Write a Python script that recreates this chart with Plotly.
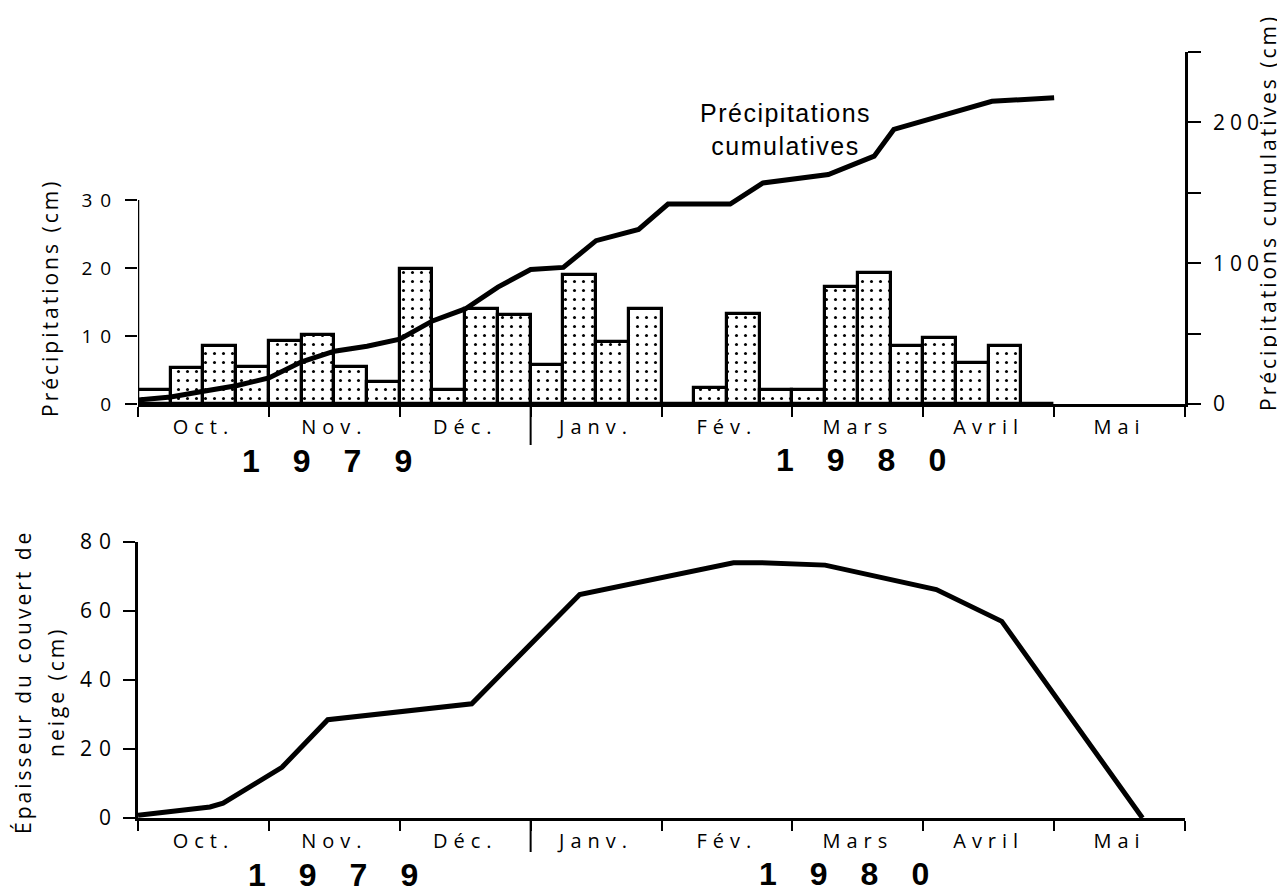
import plotly.graph_objects as go

# ---------------- data ----------------
months = ["Oct.", "Nov.", "Déc.", "Janv.", "Fév.", "Mars", "Avril", "Mai"]
weeks_per_month = 4

# weekly precipitation (cm), Oct 1979 -> Apr 1980
weekly_precip = [2.0, 5.3, 8.6, 5.5,
                 9.2, 10.2, 5.4, 3.3,
                 19.8, 2.1, 13.9, 13.1,
                 5.8, 19.0, 9.1, 13.9,
                 0.0, 2.4, 13.2, 2.1,
                 2.1, 17.2, 19.2, 8.6,
                 9.7, 6.0, 8.5, 0.0]

# cumulative precipitation (cm) vs time (weeks from 1 Oct)
cum_week = [0, 1, 2, 3, 4, 5, 6, 7, 8, 9, 10, 11, 12, 13, 14, 15.3, 16.2, 18.1,
            19.1, 21.1, 22.5, 23.1, 26.1, 28]
cum_value = [2.8, 5, 9, 13, 18.5, 30, 37.5, 41, 46, 59, 67.5, 83, 95.5, 97, 116,
             124, 142, 142, 157, 163, 176, 195, 215, 217.5]

# snow cover depth (cm) vs time (weeks from 1 Oct)
snow_week = [0, 2.2, 2.6, 4.4, 5.8, 10.2, 13.5, 16.0, 18.2, 19.0, 21.0, 24.4, 26.4, 30.7]
snow_depth = [0.8, 3.2, 4.3, 14.7, 28.5, 33.1, 64.8, 69.6, 74.0, 74.0, 73.3, 66.2, 57.0, 0]

precip_ticks = [0, 10, 20, 30]
cum_ticks = [0, 100, 200]
cum_minor = [50, 150, 250]
snow_ticks = [0, 20, 40, 60, 80]
years = ["1979", "1980"]

# ---------------- layout helpers ----------------
OFF = 8                      # page body margin
W, H = 1285 - OFF, 895 - OFF
def px(x):
    return (x - OFF) / W
def py(y):
    return 1 - (y - OFF) / H

def ls(text, spacing):
    return f'<span style="letter-spacing:{spacing}px">{text}</span>'

n_weeks = len(months) * weeks_per_month
month_centers = [i * weeks_per_month + weeks_per_month / 2 for i in range(len(months))]
month_bounds = [i * weeks_per_month for i in range(len(months) + 1)]
year_break = months.index("Janv.") * weeks_per_month

FONT = "Open Sans, DejaVu Sans, sans-serif"
month_font = dict(family=FONT, size=20, color="black")
title_font = dict(family=FONT, size=21, color="black")
year_font = dict(family="Liberation Sans, Arial, sans-serif", size=32, color="black", weight=700)

fig = go.Figure()

bar_x = [i + 0.5 for i in range(len(weekly_precip))]
fig.add_trace(go.Bar(
    x=bar_x, y=weekly_precip, width=1, xaxis="x", yaxis="y",
    marker=dict(color="white",
                line=dict(color="black", width=3.2),
                pattern=dict(shape=".", fgcolor="black", bgcolor="white",
                             size=9, solidity=0.09, fillmode="replace")),
    showlegend=False, hoverinfo="x+y"))

fig.add_trace(go.Scatter(
    x=cum_week, y=cum_value, mode="lines", xaxis="x", yaxis="y2",
    line=dict(color="black", width=5), showlegend=False))

fig.add_trace(go.Scatter(
    x=snow_week, y=snow_depth, mode="lines", xaxis="x2", yaxis="y3",
    line=dict(color="black", width=5), showlegend=False))

xdom = [px(138), px(1185)]
top_dom = [py(404), py(52)]
bot_dom = [py(818), py(542)]
top_h = 404 - 52
bot_h = 818 - 542

def xaxis_common(anchor):
    return dict(
        domain=xdom, anchor=anchor, range=[0, n_weeks], automargin=False,
        showline=True, linecolor="black", linewidth=2.5,
        showgrid=False, zeroline=False,
        tickmode="array", tickvals=month_centers,
        ticktext=[ls(m, 6) for m in months],
        ticks="outside", ticklen=0, tickfont=month_font, ticklabelstandoff=3,
        minor=dict(ticks="outside", tickvals=month_bounds, ticklen=10,
                   tickwidth=2, tickcolor="black", showgrid=False),
    )

fig.update_layout(
    template="none",
    width=W, height=H,
    margin=dict(l=0, r=0, t=0, b=0, pad=0),
    paper_bgcolor="white", plot_bgcolor="rgba(0,0,0,0)",
    bargap=0, showlegend=False,
    xaxis=xaxis_common("y"),
    yaxis=dict(domain=top_dom, range=[0, top_h / 6.8], showline=False,
               showgrid=False, zeroline=False, automargin=False,
               tickmode="array", tickvals=precip_ticks,
               ticktext=[ls(str(v), 8) for v in precip_ticks],
               ticks="outside", ticklen=12, tickwidth=2, tickcolor="black",
               tickfont=dict(family=FONT, size=19, color="black"), ticklabelstandoff=2),
    yaxis2=dict(overlaying="y", anchor="x", side="right", range=[0, 250],
                showline=True, linecolor="black", linewidth=2.5,
                showgrid=False, zeroline=False, automargin=False,
                tickmode="array", tickvals=cum_ticks,
                ticktext=[ls(str(v), 5) for v in cum_ticks],
                ticks="outside", ticklen=13, tickwidth=2, tickcolor="black",
                tickfont=dict(family=FONT, size=21, color="black"), ticklabelstandoff=8,
                minor=dict(ticks="outside", tickvals=cum_minor, ticklen=13,
                           tickwidth=2, tickcolor="black", showgrid=False)),
    xaxis2=xaxis_common("y3"),
    yaxis3=dict(domain=bot_dom, anchor="x2", range=[0, 80],
                showline=True, linecolor="black", linewidth=2.5,
                showgrid=False, zeroline=False, automargin=False,
                tickmode="array", tickvals=snow_ticks,
                ticktext=[ls(str(v), 7) for v in snow_ticks],
                ticks="outside", ticklen=12, tickwidth=2, tickcolor="black",
                tickfont=dict(family=FONT, size=21, color="black"), ticklabelstandoff=1),
)

# left axis line of the precipitation panel only spans 0-30
fig.add_shape(type="line", xref="x", yref="y", x0=0, x1=0,
              y0=precip_ticks[0], y1=precip_ticks[-1],
              line=dict(color="black", width=2.5))
# long year-separation ticks
fig.add_shape(type="line", xref="x", yref="y domain", x0=year_break, x1=year_break,
              y0=0, y1=-41 / top_h, line=dict(color="black", width=2))
fig.add_shape(type="line", xref="x2", yref="y3 domain", x0=year_break, x1=year_break,
              y0=0, y1=-34 / bot_h, line=dict(color="black", width=2))

YS = 33  # letter spacing of the year labels
annots = [
    dict(x=px(327 + YS / 2), y=py(461), text=ls(years[0], YS), font=year_font),
    dict(x=px(861 + YS / 2), y=py(460), text=ls(years[1], YS), font=year_font),
    dict(x=px(333 + YS / 2), y=py(875), text=ls(years[0], YS), font=year_font),
    dict(x=px(844 + YS / 2), y=py(874), text=ls(years[1], YS), font=year_font),
    dict(x=px(785), y=py(130), text=ls("Précipitations", 1.5) + "<br>" + ls("cumulatives", 1.5),
         font=dict(family="Liberation Sans, Arial, sans-serif", size=25, color="black")),
    dict(x=px(50), y=py(298), text=ls("Précipitations (cm)", 3), textangle=-90, font=title_font),
    dict(x=px(1268), y=py(213), text=ls("Précipitations cumulatives (cm)", 3), textangle=-90,
         font=title_font),
    dict(x=px(23), y=py(682), text=ls("Épaisseur du couvert de", 3), textangle=-90, font=title_font),
    dict(x=px(56), y=py(692), text=ls("neige (cm)", 3), textangle=-90, font=title_font),
]
for a in annots:
    fig.add_annotation(xref="paper", yref="paper", showarrow=False,
                       xanchor="center", yanchor="middle", **a)

fig.write_html("out.html")
